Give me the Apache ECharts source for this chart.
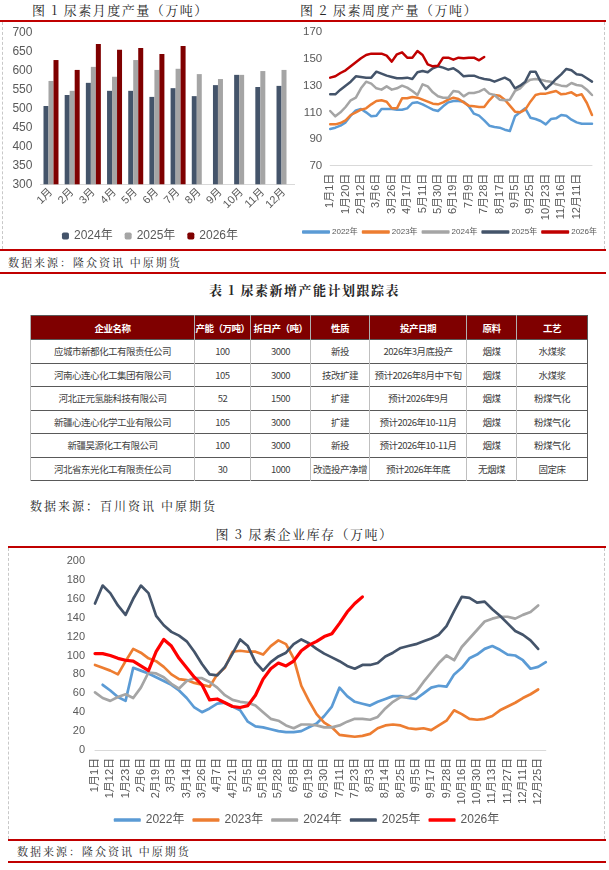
<!DOCTYPE html>
<html>
<head>
<meta charset="utf-8">
<script src="https://cdn.jsdelivr.net/npm/echarts@6/dist/echarts.min.js"></script>
<style>
body { margin: 0; background: #fff; }
#page { position: relative; width: 609px; height: 870px; overflow: hidden; font-family: "Noto Sans CJK SC", sans-serif; }
.red { position: absolute; height: 2px; background: #c00000; }
.dash { position: absolute; width: 0; border-left: 1px dashed #c8c8c8; }
.ttl { position: absolute; font-family: "Noto Serif CJK SC", "Noto Sans CJK SC", serif; font-size: 13px; color: #262626; letter-spacing: 1.5px; white-space: nowrap; line-height: 16px; }
.src { position: absolute; font-family: "Noto Serif CJK SC", "Noto Sans CJK SC", serif; font-size: 11px; color: #262626; letter-spacing: 2px; white-space: nowrap; line-height: 14px; }
.chart { position: absolute; }
#tb { position: absolute; left: 30px; top: 315px; width: 557px; border-collapse: collapse; table-layout: fixed;
      font-family: "Liberation Sans Narrow", "Noto Sans CJK SC", sans-serif; font-size: 9.5px; color: #404040; border: 1px solid #595959; }
#tb th { background: #7f0000; color: #fff; height: 23px; padding: 0; font-weight: bold; border-left: 1px solid #b0b0b0; letter-spacing: -0.5px; }
#tb td { height: 22.5px; padding: 0; text-align: center; border-top: 1px solid #595959; border-left: 1px solid #bfbfbf; letter-spacing: -0.5px; }
</style>
</head>
<body>
<div id="page">
  <div class="ttl" style="left:32px;top:2px;">图 1 尿素月度产量（万吨）</div>
  <div class="ttl" style="left:300px;top:2px;">图 2 尿素周度产量（万吨）</div>
  <div class="red" style="left:0;top:20px;width:606px;"></div>
  <div class="dash" style="left:2px;top:22px;height:227px;"></div>
  <div class="dash" style="left:604px;top:22px;height:227px;"></div>
  <div id="c1" class="chart" style="left:0;top:22px;width:300px;height:227px;"></div>
  <div id="c2" class="chart" style="left:300px;top:22px;width:304px;height:227px;"></div>
  <div class="red" style="left:0;top:249px;width:606px;"></div>
  <div class="src" style="left:8px;top:255px;">数据来源：隆众资讯 中原期货</div>
  <div class="red" style="left:0;top:272px;width:606px;"></div>

  <div class="ttl" style="left:0;width:609px;text-align:center;top:282px;font-weight:bold;">表 1 尿素新增产能计划跟踪表</div>
  <table id="tb"></table>
  <div class="src" style="left:30px;top:499px;font-size:12px;">数据来源：百川资讯 中原期货</div>

  <div class="ttl" style="left:0;width:609px;text-align:center;top:526px;">图 3 尿素企业库存（万吨）</div>
  <div class="red" style="left:8px;top:546px;width:598px;"></div>
  <div class="dash" style="left:8px;top:548px;height:291px;"></div>
  <div class="dash" style="left:604px;top:548px;height:291px;"></div>
  <div id="c3" class="chart" style="left:9px;top:548px;width:595px;height:290px;"></div>
  <div class="red" style="left:8px;top:839px;width:598px;"></div>
  <div class="src" style="left:17px;top:844px;">数据来源：隆众资讯 中原期货</div>
  <div class="red" style="left:8px;top:861px;width:598px;"></div>
</div>
<script>
// 图1 月度产量
var months = ['1月', '2月', '3月', '4月', '5月', '6月', '7月', '8月', '9月', '10月', '11月', '12月'];
var out2024 = [506, 535, 567, 546, 546, 530, 553, 532, 561, 588, 556, 559];
var out2025 = [572, 546, 609, 583, 627, 601, 604, 590, 577, 588, 598, 601];
var out2026 = [627, 601, 669, 654, 659, 643, 664, null, null, null, null, null];

// 图2 周度产量
var weekDates = ['1月1日', '1月8日', '1月14日', '1月20日', '1月28日', '2月5日', '2月12日', '2月19日', '2月26日', '3月6日',
  '3月13日', '3月19日', '3月26日', '4月2日', '4月10日', '4月17日', '4月24日', '5月3日', '5月11日', '5月17日',
  '5月24日', '5月30日', '6月6日', '6月13日', '6月19日', '6月26日', '7月2日', '7月9日', '7月16日', '7月22日',
  '7月28日', '8月4日', '8月11日', '8月17日', '8月24日', '8月31日', '9月5日', '9月12日', '9月19日', '9月25日',
  '10月9日', '10月16日', '10月23日', '10月30日', '11月6日', '11月16日', '11月22日', '11月29日', '12月11日', '12月18日',
  '12月25日', '12月31日'];
var w2022 = [97.5, 98.5, 100, 102.5, 107.5, 111.5, 112.5, 110, 107, 107.5, 112.5, 112.5, 112.5, 112, 112, 113, 117, 117.5, 116, 114,
  112, 111, 114.5, 117.5, 118.5, 118.5, 118, 114.5, 109, 107.5, 104, 100, 99, 98.5, 97, 96, 107, 110, 113, 106,
  105, 103.5, 101, 105, 105.5, 108, 107.5, 104.5, 102.5, 101.5, 101.5, 101.5];
var w2023 = [101, 101, 102, 104, 108, 110, 112, 113, 116, 118.5, 119, 118, 113, 113, 120.5, 120.5, 121.5, 121, 119.5, 118,
  116.5, 116, 117.5, 119.5, 121, 120, 117.5, 115, 114.5, 114, 114, 119, 123, 122.5, 119.5, 115, 110.5, 110, 112, 118,
  123, 124, 124, 125, 126, 123.5, 124, 125, 122.5, 123.5, 117, 108];
var w2024 = [111, 107, 110, 114, 119, 121, 128, 133, 131.5, 128, 127, 129.5, 127, 128, 130, 128.5, 126, 123, 131, 129.5,
  125, 122, 121, 121, 126, 125.5, 122, 124.5, 124.5, 125.5, 127.5, 124, 123, 119.5, 119, 119.5, 126, 128, 132, 134.5,
  135, 134.5, 133.5, 133, 131, 130, 129.5, 132, 130.5, 130, 127, 123];
var w2025 = [123.5, 123.5, 127, 130, 133, 137, 136.5, 136, 136, 140.5, 139, 137.5, 136.5, 135.5, 135.5, 136, 135, 140, 141, 140,
  143, 144.5, 143.5, 142, 143, 140.5, 137, 137.5, 137.5, 136, 135, 134.5, 133, 134.5, 136, 134, 128, 130, 133, 140.5,
  140.5, 133, 127.5, 131, 135, 138.5, 142.5, 141.5, 138.5, 138, 135.5, 133];
var w2026 = [136, 137, 139.5, 141.5, 144.5, 147.5, 150.5, 153, 154, 154, 154, 152.5, 148, 153.5, 155, 151, 151, 156, 153, 146,
  144.5, 145, 151, 151, 149.5, 151, 150.5, 151, 151, 149, 151.5];

// 表1 新增产能
var tbHead = ['企业名称', '产能（万吨）', '折日产（吨）', '性质', '投产日期', '原料', '工艺'];
var tbWidths = [164, 56, 60, 59, 97, 50, 71];
var tbCompany = ['应城市新都化工有限责任公司', '河南心连心化工集团有限公司', '河北正元氢能科技有限公司', '新疆心连心化学工业有限公司', '新疆昊源化工有限公司', '河北省东光化工有限责任公司'];
var tbCapacity = ['100', '105', '52', '105', '100', '30'];
var tbDaily = ['3000', '3000', '1500', '3000', '3000', '1000'];
var tbType = ['新投', '技改扩建', '扩建', '扩建', '新投', '改造投产净增'];
var tbDate = ['2026年3月底投产', '预计2026年8月中下旬', '预计2026年9月', '预计2026年10-11月', '预计2026年10-11月', '预计2026年年底'];
var tbFeed = ['烟煤', '烟煤', '烟煤', '烟煤', '烟煤', '无烟煤'];
var tbTech = ['水煤浆', '水煤浆', '粉煤气化', '粉煤气化', '粉煤气化', '固定床'];

// 图3 企业库存
var invDates = ['1月1日', '1月6日', '1月12日', '1月17日', '1月23日', '1月30日', '2月6日', '2月12日', '2月19日', '2月25日',
  '3月3日', '3月8日', '3月14日', '3月20日', '3月26日', '4月1日', '4月7日', '4月14日', '4月21日', '4月28日',
  '5月5日', '5月10日', '5月16日', '5月22日', '5月28日', '6月2日', '6月8日', '6月13日', '6月19日', '6月24日',
  '6月30日', '7月5日', '7月11日', '7月17日', '7月23日', '7月28日', '8月3日', '8月8日', '8月14日', '8月19日',
  '8月25日', '8月30日', '9月5日', '9月11日', '9月17日', '9月22日', '9月28日', '10月9日', '10月16日', '10月23日',
  '10月30日', '11月6日', '11月13日', '11月20日', '11月27日', '12月4日', '12月11日', '12月18日', '12月25日', '12月31日'];
var inv2022 = [null, 69, 63, 56, 52, 87, 84, 81, 77, 73, 69, 63, 55, 45, 40, 44, 49, 50, 46, 42,
  30, 25, 24, 22, 20, 19, 19, 20, 24, 28, 36, 46, 66, 57, 51, 49, 47, 51, 54, 57,
  57, 55, 54, 60, 66, 68, 67, 80, 87, 97, 101, 107, 110, 106, 101, 100, 95, 86, 88, 93];
var inv2023 = [90, 87, 84, 80, 94, 107, 103, 97, 94, 88, 80, 75, 74, 71, 69, 67, 80, 87, 104, 105,
  104, 104, 101, 110, 116, 112, 97, 68, 52, 38, 29, 24, 16, 15, 14, 15, 17, 23, 26, 27,
  26, 23, 22, 23, 21, 26, 31, 42, 38, 33, 32, 33, 36, 42, 46, 50, 55, 59, 64, null];
var inv2024 = [61, 55, 52, 56, 59, 55, 66, 82, 81, 77, 70, 65, 73, 76, 76, 72, 66, 58, 53, 51,
  50, 47, 40, 33, 31, 26, 23, 27, 27, 26, 24, 24, 26, 30, 33, 33, 32, 35, 44, 51,
  56, 56, 61, 72, 82, 92, 100, 95, 109, 118, 127, 136, 139, 141, 141, 139, 143, 146, 153, null];
var inv2025 = [155, 174, 166, 153, 143, 160, 174, 166, 142, 132, 125, 121, 115, 104, 91, 80, 79, 88, 102, 117,
  110, 93, 84, 93, 99, 103, 112, 117, 113, 107, 102, 98, 94, 89, 86, 90, 90, 92, 99, 103,
  108, 110, 112, 115, 118, 122, 131, 147, 162, 161, 156, 157, 149, 142, 134, 126, 122, 116, 107, null];
var inv2026 = [102, 102, 100, 97, 95, 94, 89, 84, 104, 117, 110, 97, 87, 77, 69, 53, 54, 50, 46, 45,
  47, 58, 75, 86, 92, 89, 94, 105, 111, 115, 120, 123, 134, 146, 155, 162];

var fontFam = "'Liberation Sans', 'Noto Sans CJK SC', sans-serif";
var labCol = '#595959';

// build table
(function () {
  var tb = document.getElementById('tb');
  var html = '<colgroup>';
  tbWidths.forEach(function (w) { html += '<col style="width:' + w + 'px">'; });
  html += '</colgroup><tr>';
  tbHead.forEach(function (h) { html += '<th>' + h + '</th>'; });
  html += '</tr>';
  for (var i = 0; i < tbCompany.length; i++) {
    html += '<tr><td>' + tbCompany[i] + '</td><td>' + tbCapacity[i] + '</td><td>' + tbDaily[i] + '</td><td>' + tbType[i] +
      '</td><td>' + tbDate[i] + '</td><td>' + tbFeed[i] + '</td><td>' + tbTech[i] + '</td></tr>';
  }
  tb.innerHTML = html;
})();

// chart 1
var chart1 = echarts.init(document.getElementById('c1'));
chart1.setOption({
  animation: false,
  textStyle: { fontFamily: fontFam },
  grid: { left: 40.4, top: 10.3, width: 254.2, height: 152 },
  legend: {
    top: 203, left: 'center', itemWidth: 7, itemHeight: 7, itemGap: 12,
    textStyle: { fontSize: 12, color: labCol },
    data: ['2024年', '2025年', '2026年']
  },
  xAxis: {
    type: 'category', data: months,
    axisLine: { lineStyle: { color: '#d9d9d9' } },
    axisTick: { show: false },
    axisLabel: { rotate: 45, interval: 0, fontSize: 11, color: labCol, margin: 6 }
  },
  yAxis: {
    type: 'value', min: 300, max: 700, interval: 50,
    splitLine: { show: false },
    axisLabel: { fontSize: 12, color: labCol, margin: 8 }
  },
  series: [
    { name: '2024年', type: 'bar', data: out2024, barWidth: 5, barGap: '0%', itemStyle: { color: '#44546a' } },
    { name: '2025年', type: 'bar', data: out2025, barWidth: 5, barGap: '0%', itemStyle: { color: '#a5a5a5' } },
    { name: '2026年', type: 'bar', data: out2026, barWidth: 5, barGap: '0%', itemStyle: { color: '#7f0000' } }
  ]
});

function lineSeries(name, data, color, width) {
  return {
    name: name, type: 'line', data: data, symbol: 'none', showSymbol: false,
    lineStyle: { color: color, width: width, join: 'round', cap: 'round' },
    itemStyle: { color: color }
  };
}

// chart 2
var chart2 = echarts.init(document.getElementById('c2'));
chart2.setOption({
  animation: false,
  textStyle: { fontFamily: fontFam },
  grid: { left: 30, top: 10.3, width: 262, height: 133.4 },
  legend: {
    top: 206, left: 2, padding: 0, icon: 'roundRect', itemWidth: 28, itemHeight: 3.5, itemGap: 4,
    textStyle: { fontSize: 8, color: labCol, padding: [0, 0, 0, -3] },
    data: ['2022年', '2023年', '2024年', '2025年', '2026年']
  },
  xAxis: {
    type: 'category', data: weekDates, boundaryGap: false,
    axisLine: { lineStyle: { color: '#d9d9d9' } },
    axisTick: { show: false },
    axisLabel: {
      rotate: 90, fontSize: 11, color: labCol, margin: 8,
      interval: function (i) { return i % 3 === 0 && i < 51; }
    }
  },
  yAxis: {
    type: 'value', min: 70, max: 170, interval: 20,
    splitLine: { show: false },
    axisLabel: { fontSize: 11.5, color: labCol, margin: 8 }
  },
  series: [
    lineSeries('2022年', w2022, '#5b9bd5', 2.5),
    lineSeries('2023年', w2023, '#ed7d31', 2.5),
    lineSeries('2024年', w2024, '#a5a5a5', 2.5),
    lineSeries('2025年', w2025, '#44546a', 2.5),
    lineSeries('2026年', w2026, '#c00000', 2.5)
  ]
});

// chart 3
var chart3 = echarts.init(document.getElementById('c3'));
chart3.setOption({
  animation: false,
  textStyle: { fontFamily: fontFam },
  grid: { left: 86, top: 13, width: 450.8, height: 189 },
  legend: {
    top: 261, left: 'center', icon: 'roundRect', itemWidth: 27, itemHeight: 3.5, itemGap: 8,
    textStyle: { fontSize: 12, color: labCol },
    data: ['2022年', '2023年', '2024年', '2025年', '2026年']
  },
  xAxis: {
    type: 'category', data: invDates, boundaryGap: false,
    axisLine: { lineStyle: { color: '#d9d9d9' } },
    axisTick: { show: false },
    axisLabel: { rotate: 90, fontSize: 11, color: labCol, margin: 8, interval: 1 }
  },
  yAxis: {
    type: 'value', min: 0, max: 200, interval: 20,
    splitLine: { show: false },
    axisLabel: { fontSize: 11, color: labCol, margin: 10 }
  },
  series: [
    lineSeries('2022年', inv2022, '#5b9bd5', 2.7),
    lineSeries('2023年', inv2023, '#ed7d31', 2.7),
    lineSeries('2024年', inv2024, '#a5a5a5', 2.7),
    lineSeries('2025年', inv2025, '#44546a', 2.7),
    lineSeries('2026年', inv2026, '#ff0000', 3.2)
  ]
});
</script>
</body>
</html>
